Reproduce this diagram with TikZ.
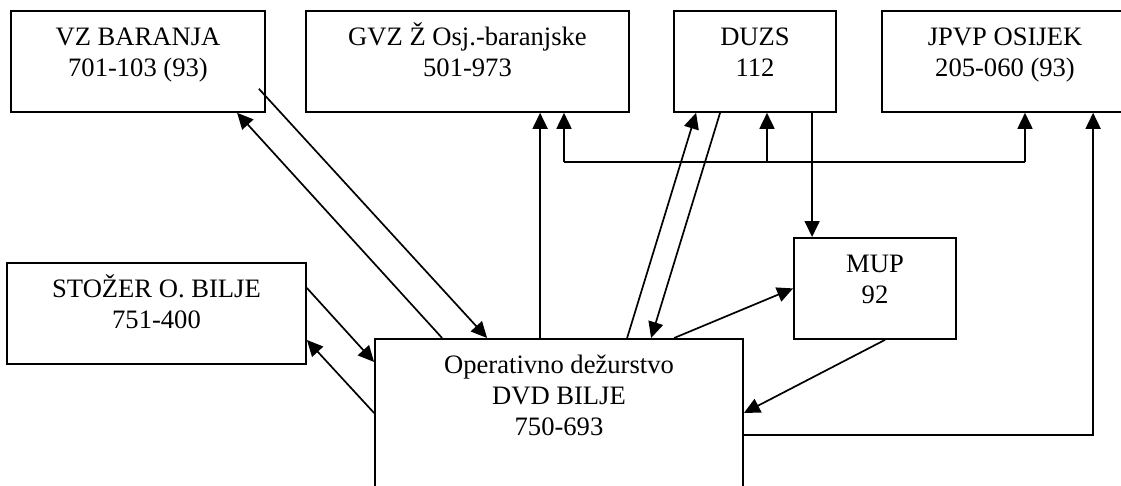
\documentclass[tikz,border=0pt]{standalone}
\usepackage{fontspec}
\setmainfont{Liberation Serif}
\usetikzlibrary{arrows.meta}

\begin{document}
\begin{tikzpicture}[x=1pt,y=-1pt,
    box/.style={draw, line width=1.8pt, align=center, anchor=north, inner sep=0pt,
      minimum height=101pt, text height=48.8pt, text depth=18.2pt,
      font=\fontsize{26.6}{30.8}\selectfont},
    link/.style={line width=1.7pt},
    arr/.style={link, -{Triangle[length=16pt,width=15pt]}}]
    \useasboundingbox (0,0) rectangle (1121,485);
    \clip (0,0) rectangle (1121,485);
    \node[box, minimum width=254pt] (vz) at (138,10) {VZ BARANJA\\701-103 (93)};
    \node[box, minimum width=323pt] (gvz) at (467.5,10) {GVZ Ž Osj.-baranjske\\501-973};
    \node[box, minimum width=162pt] (duzs) at (755,10) {DUZS\\112};
    \node[box, minimum width=246pt] (jpvp) at (1005,10) {JPVP OSIJEK\\205-060 (93)};
    \node[box, minimum width=299pt] (stozer) at (156.5,262) {STOŽER O. BILJE\\751-400};
    \node[box, minimum width=162pt] (mup) at (875,237) {MUP\\92};
    \node[box, minimum width=368pt, minimum height=200pt, text height=79.6pt, text depth=86.4pt]
      (op) at (559,338) {Operativno dežurstvo\\DVD BILJE\\750-693};
    \draw[arr] ([xshift=68pt]op.north west) -- ([xshift=227pt]vz.south west);
    \draw[arr] ([shift={(-7,-24)}]vz.south east) -- ([xshift=113pt]op.north west);
    \draw[arr] ([xshift=166pt]op.north west) -- ([xshift=235pt]gvz.south west);
    \coordinate (busL) at (564,162);
    \coordinate (busM) at (767,162);
    \coordinate (busR) at (1025,162);
    \draw[link] (busL) -- (busR);
    \draw[arr] (busL) -- (busL |- gvz.south);
    \draw[arr] (busM) -- (busM |- duzs.south);
    \draw[arr] (busR) -- (busR |- jpvp.south);
    \draw[arr] ([xshift=253pt]op.north west) -- ([xshift=23pt]duzs.south west);
    \draw[arr] ([xshift=47pt]duzs.south west) -- ([xshift=277pt]op.north west);
    \coordinate (d1) at ([xshift=139pt]duzs.south west);
    \draw[arr] (d1) -- (d1 |- mup.north);
    \draw[arr] ([xshift=300pt]op.north west) -- (mup.west);
    \draw[arr] ([xshift=92pt]mup.south west) -- ([yshift=-75pt]op.north east);
    \draw[arr] ([yshift=-97pt]op.north east) -| ([xshift=212pt]jpvp.south west);
    \draw[arr] ([yshift=-26pt]stozer.north east) -- ([yshift=-24pt]op.north west);
    \draw[arr] ([yshift=-75pt]op.north west) -- ([yshift=-78pt]stozer.north east);
\end{tikzpicture}
\end{document}
